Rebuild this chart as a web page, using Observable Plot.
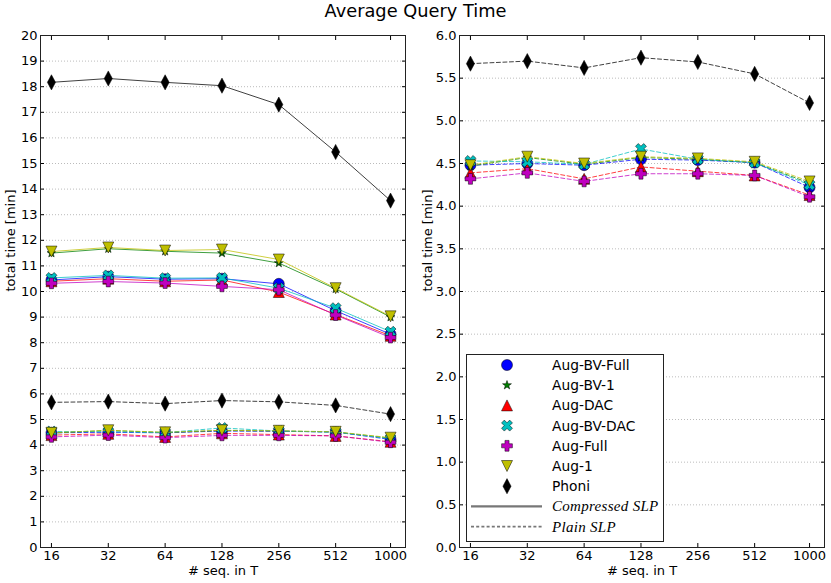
<!DOCTYPE html>
<html><head><meta charset="utf-8">
<script src="https://cdn.jsdelivr.net/npm/d3@7"></script>
<script src="https://cdn.jsdelivr.net/npm/@observablehq/plot@0.6"></script>
<style>
body{margin:0;background:#fff;font-family:"DejaVu Sans",sans-serif;}
#wrap{position:relative;width:831px;height:583px;overflow:hidden;background:#fff}
#title{position:absolute;left:0;top:0px;width:831px;text-align:center;font-size:17.8px;line-height:22px;color:#000;z-index:5}
.panel{position:absolute;top:0}
#legend{position:absolute;left:466px;top:354px;z-index:4}
</style></head><body>
<div id="wrap"><div id="left" class="panel" style="left:0"></div><div id="right" class="panel" style="left:415px"></div><div id="legend"></div><div id="title">Average Query Time</div></div>
<script>
// ---- data ----
const sizes = [16, 32, 64, 128, 256, 512, 1000];
const sizeLabels = ["16", "32", "64", "128", "256", "512", "1000"];
const seriesNames = ["Aug-BV-Full", "Aug-BV-1", "Aug-DAC", "Aug-BV-DAC", "Aug-Full", "Aug-1", "Phoni"];
const seriesColors = ["#0000ff", "#007f00", "#ff0000", "#00bfbf", "#bf00bf", "#bfbf00", "#000000"];
// Compressed SLP (solid lines)
const compAugBVFull = [10.45, 10.58, 10.48, 10.50, 10.30, 9.25, 8.33];
const compAugBV1    = [11.50, 11.67, 11.57, 11.50, 11.11, 10.10, 9.00];
const compAugDAC    = [10.40, 10.50, 10.40, 10.45, 9.98, 9.10, 8.27];
const compAugBVDAC  = [10.53, 10.63, 10.52, 10.53, 10.13, 9.35, 8.43];
const compAugFull   = [10.32, 10.39, 10.33, 10.20, 10.07, 9.08, 8.20];
const compAug1      = [11.56, 11.72, 11.60, 11.64, 11.25, 10.13, 9.03];
const compPhoni     = [18.17, 18.32, 18.17, 18.04, 17.30, 15.45, 13.55];
// Plain SLP (dashed lines)
const plainAugBVFull = [4.48, 4.50, 4.48, 4.55, 4.54, 4.51, 4.22];
const plainAugBV1    = [4.47, 4.57, 4.49, 4.57, 4.55, 4.51, 4.27];
const plainAugDAC    = [4.39, 4.44, 4.32, 4.46, 4.41, 4.36, 4.13];
const plainAugBVDAC  = [4.53, 4.52, 4.49, 4.67, 4.55, 4.51, 4.25];
const plainAugFull   = [4.32, 4.39, 4.29, 4.38, 4.38, 4.36, 4.11];
const plainAug1      = [4.48, 4.58, 4.50, 4.58, 4.56, 4.52, 4.29];
const plainPhoni     = [5.67, 5.70, 5.62, 5.74, 5.69, 5.55, 5.21];
// tick values
const leftYTicks = [0,1,2,3,4,5,6,7,8,9,10,11,12,13,14,15,16,17,18,19,20];
const rightYTicks = [0.0,0.5,1.0,1.5,2.0,2.5,3.0,3.5,4.0,4.5,5.0,5.5,6.0];

const compressed = [compAugBVFull, compAugBV1, compAugDAC, compAugBVDAC, compAugFull, compAug1, compPhoni];
const plain = [plainAugBVFull, plainAugBV1, plainAugDAC, plainAugBVDAC, plainAugFull, plainAug1, plainPhoni];

// ---- marker shapes (matplotlib-like) ----
function poly(pts) {
  return {draw(ctx, size) {
    const r = Math.sqrt(size / Math.PI);
    pts.forEach(([x, y], i) => i ? ctx.lineTo(x * r, y * r) : ctx.moveTo(x * r, y * r));
    ctx.closePath();
  }};
}
function plusPts(h, a) {
  return [[-a,-h],[a,-h],[a,-a],[h,-a],[h,a],[a,a],[a,h],[-a,h],[-a,a],[-h,a],[-h,-a],[-a,-a]];
}
function rot(pts, ang) {
  const c = Math.cos(ang), s = Math.sin(ang);
  return pts.map(([x, y]) => [x * c - y * s, x * s + y * c]);
}
function starPts(R, r) {
  const p = [];
  for (let i = 0; i < 10; i++) {
    const ang = -Math.PI / 2 + i * Math.PI / 5, rr = i % 2 ? r : R;
    p.push([rr * Math.cos(ang), rr * Math.sin(ang)]);
  }
  return p;
}
const symCircle = {draw(ctx, size) { const r = Math.sqrt(size / Math.PI); ctx.moveTo(r, 0); ctx.arc(0, 0, r, 0, 2 * Math.PI); }};
const seriesSymbols = [
  symCircle,
  poly(starPts(0.85, 0.34)),
  poly([[0,-1],[1,1],[-1,1]]),
  poly(rot(plusPts(1.05, 0.36), Math.PI / 4)),
  poly(plusPts(0.98, 0.37)),
  poly([[0,1],[1,-1],[-1,-1]]),
  poly([[0,-1.38],[0.74,0],[0,1.38],[-0.74,0]])
];
const markerR = 5.5;

function rowsOf(vals) { return sizes.map((s, i) => ({size: s, value: vals[i]})); }

function seriesMarks(list, dashed) {
  const out = [];
  list.forEach((vals, k) => {
    const rows = rowsOf(vals);
    out.push(Plot.line(rows, {x: "size", y: "value", stroke: seriesColors[k], strokeWidth: 1,
      strokeOpacity: 0.75, strokeDasharray: dashed ? "4,2.5" : null}));
    out.push(Plot.dot(rows, {x: "size", y: "value", symbol: seriesSymbols[k], r: markerR,
      fill: seriesColors[k], stroke: "#000", strokeWidth: 0.5}));
  });
  return out;
}

function panel({yDomain, yTicks, yFormat, width, marginLeft, marginRight, groups, labelOffset}) {
  return Plot.plot({
    width, height: 583, marginTop: 35, marginBottom: 36, marginLeft, marginRight,
    style: {fontFamily: "DejaVu Sans", fontSize: "13px", background: "white", color: "black", overflow: "visible"},
    x: {type: "log", base: 2, domain: [14, 1200]},
    y: {domain: yDomain},
    marks: [
      Plot.gridY(yTicks, {stroke: "#000", strokeOpacity: 0.45, strokeDasharray: "1,2", strokeWidth: 0.6}),
      Plot.axisY(yTicks, {anchor: "left", tickSize: -4, tickPadding: 7, tickFormat: yFormat,
        label: null, fontSize: 13}),
      Plot.axisY(yTicks, {anchor: "right", tickSize: -4, tickFormat: () => "", label: null}),
      Plot.axisX(sizes, {anchor: "bottom", tickSize: -4, tickPadding: 7,
        tickFormat: d => sizeLabels[sizes.indexOf(d)], label: null, fontSize: 13}),
      Plot.axisX(sizes, {anchor: "top", tickSize: -4, tickFormat: () => "", label: null}),
      Plot.text(["total time [min]"], {frameAnchor: "left", dx: -labelOffset, rotate: -90, fontSize: 13}),
      Plot.text(["# seq. in T"], {frameAnchor: "bottom", dy: 27.5, fontSize: 13}),
      ...groups,
      Plot.frame({stroke: "#222", strokeWidth: 1})
    ]
  });
}

document.getElementById("left").append(panel({
  yDomain: [0, 20], yTicks: leftYTicks, yFormat: d => String(d), width: 415,
  marginLeft: 40, marginRight: 10, labelOffset: 30,
  groups: [...seriesMarks(compressed, false), ...seriesMarks(plain, true)]
}));
document.getElementById("right").append(panel({
  yDomain: [0, 6], yTicks: rightYTicks, yFormat: d => d.toFixed(1), width: 416,
  marginLeft: 44, marginRight: 7, labelOffset: 32,
  groups: seriesMarks(plain, true)
}));

// ---- legend ----
const lg = d3.select("#legend").append("svg").attr("width", 199).attr("height", 189)
  .style("font-family", "DejaVu Sans");
lg.append("rect").attr("x", 0.5).attr("y", 0.5).attr("width", 197).attr("height", 187)
  .attr("fill", "white").attr("stroke", "#222").attr("stroke-width", 1);
seriesNames.forEach((name, i) => {
  const cy = 11 + i * 20.2;
  lg.append("path").attr("transform", `translate(41,${cy})`)
    .attr("d", d3.symbol(seriesSymbols[i], Math.PI * markerR * markerR)())
    .attr("fill", seriesColors[i]).attr("stroke", "#000").attr("stroke-width", 0.5);
  lg.append("text").attr("x", 86).attr("y", cy).attr("dy", "0.36em").attr("font-size", 13.8).text(name);
});
[["Compressed SLP", null], ["Plain SLP", "3,2.2"]].forEach(([name, dash], j) => {
  const cy = 11 + (7 + j) * 20.2;
  lg.append("line").attr("x1", 5).attr("x2", 76).attr("y1", cy).attr("y2", cy)
    .attr("stroke", "#777").attr("stroke-width", dash ? 1.6 : 2.2).attr("stroke-dasharray", dash);
  lg.append("text").attr("x", 86).attr("y", cy).attr("dy", "0.33em").attr("font-size", 15)
    .attr("font-family", "Liberation Serif").attr("font-style", "italic").attr("letter-spacing", "0.3px").text(name);
});
</script>
</body></html>
